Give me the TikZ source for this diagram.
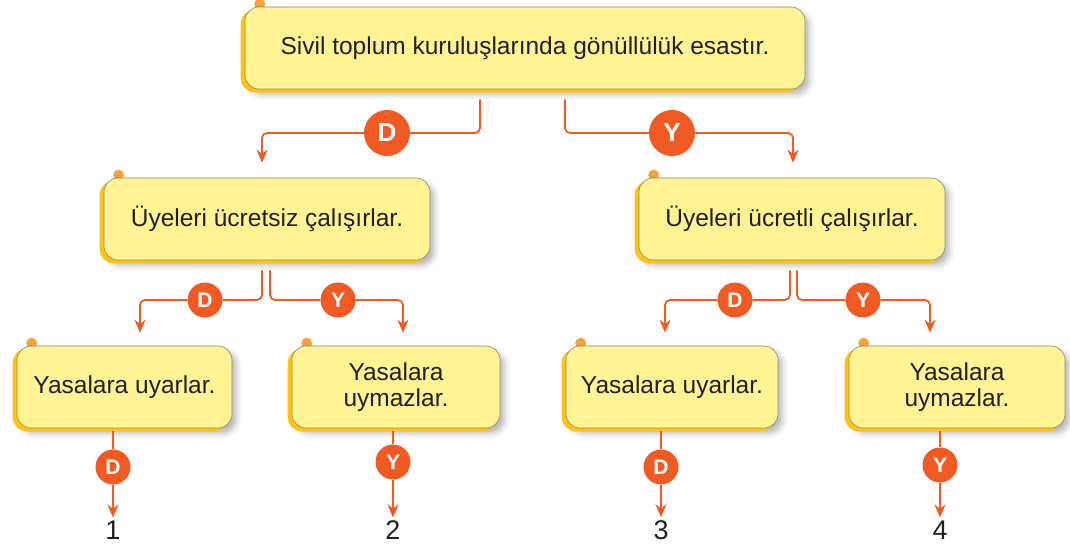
\documentclass[tikz,border=0pt]{standalone}
\usepackage{fontspec}
\setmainfont{Liberation Sans}
\usetikzlibrary{shadows,shadows.blur,arrows.meta}
\definecolor{boxfill}{HTML}{FFF394}
\definecolor{gold}{HTML}{FFC20E}
\definecolor{orng}{HTML}{F15A22}
\definecolor{dotc}{HTML}{F7A23A}
\definecolor{edge}{HTML}{8A8A78}
\definecolor{txt}{HTML}{231F20}
\pgfdeclarelayer{bg}
\pgfsetlayers{bg,main}
\tikzset{
  ybox/.style={rectangle, rounded corners=14pt, fill=boxfill, draw=edge, line width=0.6pt,
    text=txt, font=\fontsize{24.5}{26}\selectfont, align=center, minimum height=82pt, inner sep=0pt,
    blur shadow={shadow xshift=4pt, shadow yshift=-5pt, shadow blur radius=6pt, shadow opacity=30},
    copy shadow={shadow xshift=-4pt, shadow yshift=-3pt, fill=gold, draw=gold}},
  bigc/.style={circle, fill=orng, text=white, minimum size=46pt, inner sep=0pt,
    font=\fontsize{26}{27}\selectfont\bfseries},
  smallc/.style={circle, fill=orng, text=white, minimum size=35pt, inner sep=0pt,
    font=\fontsize{21}{22}\selectfont\bfseries},
  conn/.style={draw=orng, line width=1.8pt, rounded corners=5pt},
  arr/.style={conn, -{Stealth[length=13pt,width=11pt]}},
  num/.style={font=\fontsize{27}{28}\selectfont, text=txt, inner sep=1pt},
  dot/.style={fill=dotc, draw=none}
}
\begin{document}
\begin{tikzpicture}[x=1pt,y=-1pt]
\useasboundingbox (0,0) rectangle (1070,546);
% boxes
\node[ybox, minimum width=560pt] (top) at (525,48) {Sivil toplum kuruluşlarında gönüllülük esastır.};
\node[ybox, minimum width=326pt] (L1) at (267,219) {Üyeleri ücretsiz çalışırlar.};
\node[ybox, minimum width=306pt] (R1) at (792,219) {Üyeleri ücretli çalışırlar.};
\node[ybox, minimum width=215pt] (B1) at (124.5,387) {Yasalara uyarlar.};
\node[ybox, minimum width=208pt] (B2) at (396,387) {Yasalara\\uymazlar.};
\node[ybox, minimum width=212pt] (B3) at (672,387) {Yasalara uyarlar.};
\node[ybox, minimum width=216pt] (B4) at (957,387) {Yasalara\\uymazlar.};
\begin{pgfonlayer}{bg}
\foreach \b in {top,L1,R1,B1,B2,B3,B4}
  \fill[dot] ([xshift=15pt,yshift=2.5pt]\b.north west) circle (5.5pt);
\end{pgfonlayer}
% circles
\node[bigc] (c1) at (387,133) {D};
\node[bigc] (c2) at (672,133) {Y};
\node[smallc] (c3) at (205,300) {D};
\node[smallc] (c4) at (338,300) {Y};
\node[smallc] (c5) at (735,300) {D};
\node[smallc] (c6) at (863,300) {Y};
\node[smallc] (c7) at (113,467) {D};
\node[smallc] (c8) at (393,462) {Y};
\node[smallc] (c9) at (661,467) {D};
\node[smallc] (c10) at (940,465) {Y};
% numbers
\node[num] (n1) at (113,530) {1};
\node[num] (n2) at (393,530) {2};
\node[num] (n3) at (661,530) {3};
\node[num] (n4) at (940,530) {4};
% connectors level 1
\draw[conn] ([xshift=-45pt,yshift=-10pt]top.south) |- (c1);
\draw[arr] (c1) -| ([xshift=-5pt,yshift=15pt]L1.north);
\draw[conn] ([xshift=40pt,yshift=-10pt]top.south) |- (c2);
\draw[arr] (c2) -| ([xshift=1pt,yshift=15pt]R1.north);
% level 2
\draw[conn] ([xshift=-5pt,yshift=-10pt]L1.south) |- (c3);
\draw[arr] (c3) -| ([xshift=15.5pt,yshift=13pt]B1.north);
\draw[conn] ([xshift=3pt,yshift=-10pt]L1.south) |- (c4);
\draw[arr] (c4) -| ([xshift=7pt,yshift=13pt]B2.north);
\draw[conn] ([xshift=-2pt,yshift=-10pt]R1.south) |- (c5);
\draw[arr] (c5) -| ([xshift=-7pt,yshift=13pt]B3.north);
\draw[conn] ([xshift=5pt,yshift=-10pt]R1.south) |- (c6);
\draw[arr] (c6) -| ([xshift=-27pt,yshift=13pt]B4.north);
% level 3
\draw[conn] ([xshift=-11.5pt,yshift=-3pt]B1.south) -- (c7);
\draw[arr] (c7) -- ([yshift=2pt]n1.north);
\draw[conn] ([xshift=-3pt,yshift=-3pt]B2.south) -- (c8);
\draw[arr] (c8) -- ([yshift=2pt]n2.north);
\draw[conn] ([xshift=-11pt,yshift=-3pt]B3.south) -- (c9);
\draw[arr] (c9) -- ([yshift=2pt]n3.north);
\draw[conn] ([xshift=-17pt,yshift=-3pt]B4.south) -- (c10);
\draw[arr] (c10) -- ([yshift=2pt]n4.north);
\end{tikzpicture}
\end{document}
